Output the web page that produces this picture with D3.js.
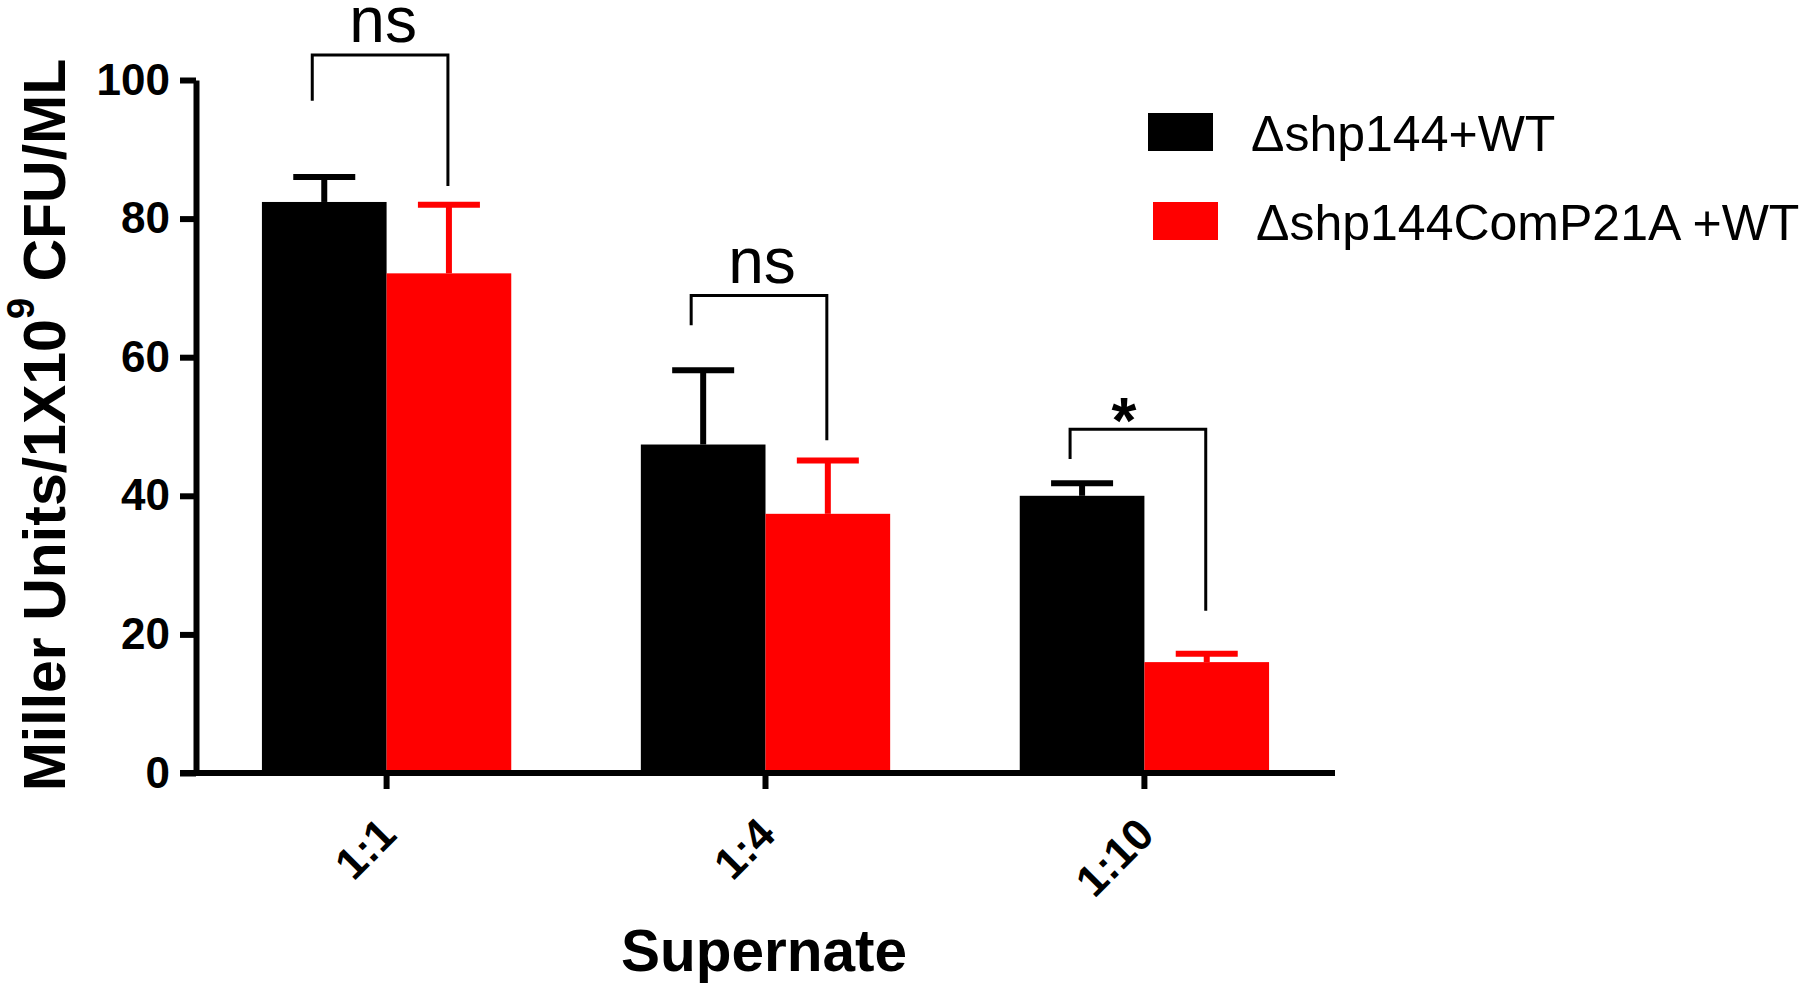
<!DOCTYPE html>
<html>
<head>
<meta charset="utf-8">
<script src="https://cdn.jsdelivr.net/npm/d3@7"></script>
<style>
  html, body { margin: 0; padding: 0; background: #fff; }
  svg { display: block; }
  text { font-family: "Liberation Sans", Arial, Helvetica, sans-serif; fill: #000; }
</style>
</head>
<body>
<svg id="chart" width="1800" height="992"></svg>
<script>
// ---- data ----
const categories = ["1:1", "1:4", "1:10"];
const seriesNames = ["\u0394shp144+WT", "\u0394shp144ComP21A +WT"];
const seriesColors = ["#000000", "#ff0000"];
const meansWT = [82.4, 47.4, 40.0];
const errWT = [3.6, 10.7, 1.8];
const meansMut = [72.1, 37.4, 16.0];
const errMut = [9.9, 7.7, 1.2];
const yTicks = [0, 20, 40, 60, 80, 100];
const sigLabels = ["ns", "ns", "*"];
const sigTop = [103.6, 68.9, 49.6];
const sigLeftEnd = [97.0, 64.6, 45.3];
const sigRightEnd = [84.7, 48.0, 23.4];
const yTitleMain = "Miller Units/1X10";
const yTitleSup = "9";
const yTitleRest = " CFU/ML";
const xTitle = "Supernate";

const svg = d3.select("#chart");

const x0 = d3.scaleBand().domain(categories).range([196, 1335])
  .paddingInner(0.342).paddingOuter(0.174);
const x1 = d3.scaleBand().domain([0, 1]).range([0, x0.bandwidth()]).padding(0);
const y = d3.scaleLinear().domain([0, 100]).range([773, 80]);

const series = [
  { name: seriesNames[0], color: seriesColors[0], means: meansWT, errs: errWT },
  { name: seriesNames[1], color: seriesColors[1], means: meansMut, errs: errMut }
];

// bars
series.forEach((s, si) => {
  const g = svg.append("g");
  g.selectAll("rect").data(categories).join("rect")
    .attr("x", c => x0(c) + x1(si))
    .attr("y", (c, i) => y(s.means[i]))
    .attr("width", x1.bandwidth())
    .attr("height", (c, i) => y(0) - y(s.means[i]))
    .attr("fill", s.color);
  // error bars (upper only)
  const eb = svg.append("g").attr("stroke", s.color).attr("stroke-width", 6);
  categories.forEach((c, i) => {
    const cx = x0(c) + x1(si) + x1.bandwidth() / 2;
    eb.append("line").attr("x1", cx).attr("x2", cx)
      .attr("y1", y(s.means[i])).attr("y2", y(s.means[i] + s.errs[i]));
    eb.append("line").attr("x1", cx - 31).attr("x2", cx + 31)
      .attr("y1", y(s.means[i] + s.errs[i])).attr("y2", y(s.means[i] + s.errs[i]));
  });
});

// axes
const yAxis = d3.axisLeft(y).tickValues(yTicks).tickSize(16).tickPadding(10).tickSizeOuter(0);
const gy = svg.append("g").attr("transform", "translate(196,0)").call(yAxis);
gy.selectAll("path, line").attr("stroke", "#000").attr("stroke-width", 6);
gy.selectAll("text").style("font-size", "44px").style("font-weight", "bold")
  .style("font-family", '"Liberation Sans", Arial, sans-serif').attr("fill", "#000");

const xAxis = d3.axisBottom(x0).tickSize(16).tickSizeOuter(0).tickPadding(0);
const gx = svg.append("g").attr("transform", "translate(0,773)").call(xAxis);
gx.select(".domain").attr("d", "M180,0H1335");
gx.selectAll("path, line").attr("stroke", "#000").attr("stroke-width", 6);
gx.selectAll("text")
  .attr("y", null).attr("dy", null)
  .attr("transform", "translate(12,64) rotate(-45)")
  .attr("text-anchor", "end")
  .style("font-size", "44px").style("font-weight", "bold")
  .style("font-family", '"Liberation Sans", Arial, sans-serif').attr("fill", "#000");

// significance brackets
const gs = svg.append("g");
categories.forEach((c, i) => {
  const lx = x0(c) + x1(0) + x1.bandwidth() / 2 - 12;
  const rx = x0(c) + x1(1) + x1.bandwidth() / 2 - 1;
  gs.append("path")
    .attr("d", `M${lx},${y(sigLeftEnd[i])}V${y(sigTop[i])}H${rx}V${y(sigRightEnd[i])}`)
    .attr("fill", "none").attr("stroke", "#000").attr("stroke-width", 3);
  const mid = (lx + rx) / 2;
  if (sigLabels[i] === "*") {
    gs.append("text").attr("x", mid - 14).attr("y", y(sigTop[i]) + 14)
      .attr("text-anchor", "middle").style("font-size", "64px").style("font-weight", "bold")
      .text(sigLabels[i]);
  } else {
    gs.append("text").attr("x", mid + 3).attr("y", y(sigTop[i]) - 13)
      .attr("text-anchor", "middle").style("font-size", "64px")
      .text(sigLabels[i]);
  }
});

// y title
const yt = svg.append("text")
  .attr("transform", "translate(65,425) rotate(-90)")
  .attr("text-anchor", "middle")
  .style("font-size", "59px").style("font-weight", "bold");
yt.append("tspan").text(yTitleMain);
yt.append("tspan").attr("dy", -31).style("font-size", "38px").text(yTitleSup);
yt.append("tspan").attr("dy", 31).text(yTitleRest);

// x title
svg.append("text").attr("x", 764).attr("y", 971).attr("text-anchor", "middle")
  .style("font-size", "58.5px").style("font-weight", "bold").text(xTitle);

// legend
const legendY = [113, 202];
const legendX = [1148, 1153];
series.forEach((s, i) => {
  svg.append("rect").attr("x", legendX[i]).attr("y", legendY[i])
    .attr("width", 65).attr("height", 38).attr("fill", s.color);
  svg.append("text").attr("x", legendX[i] + 103).attr("y", legendY[i] + 38)
    .style("font-size", "50px").text(s.name);
});
</script>
</body>
</html>
